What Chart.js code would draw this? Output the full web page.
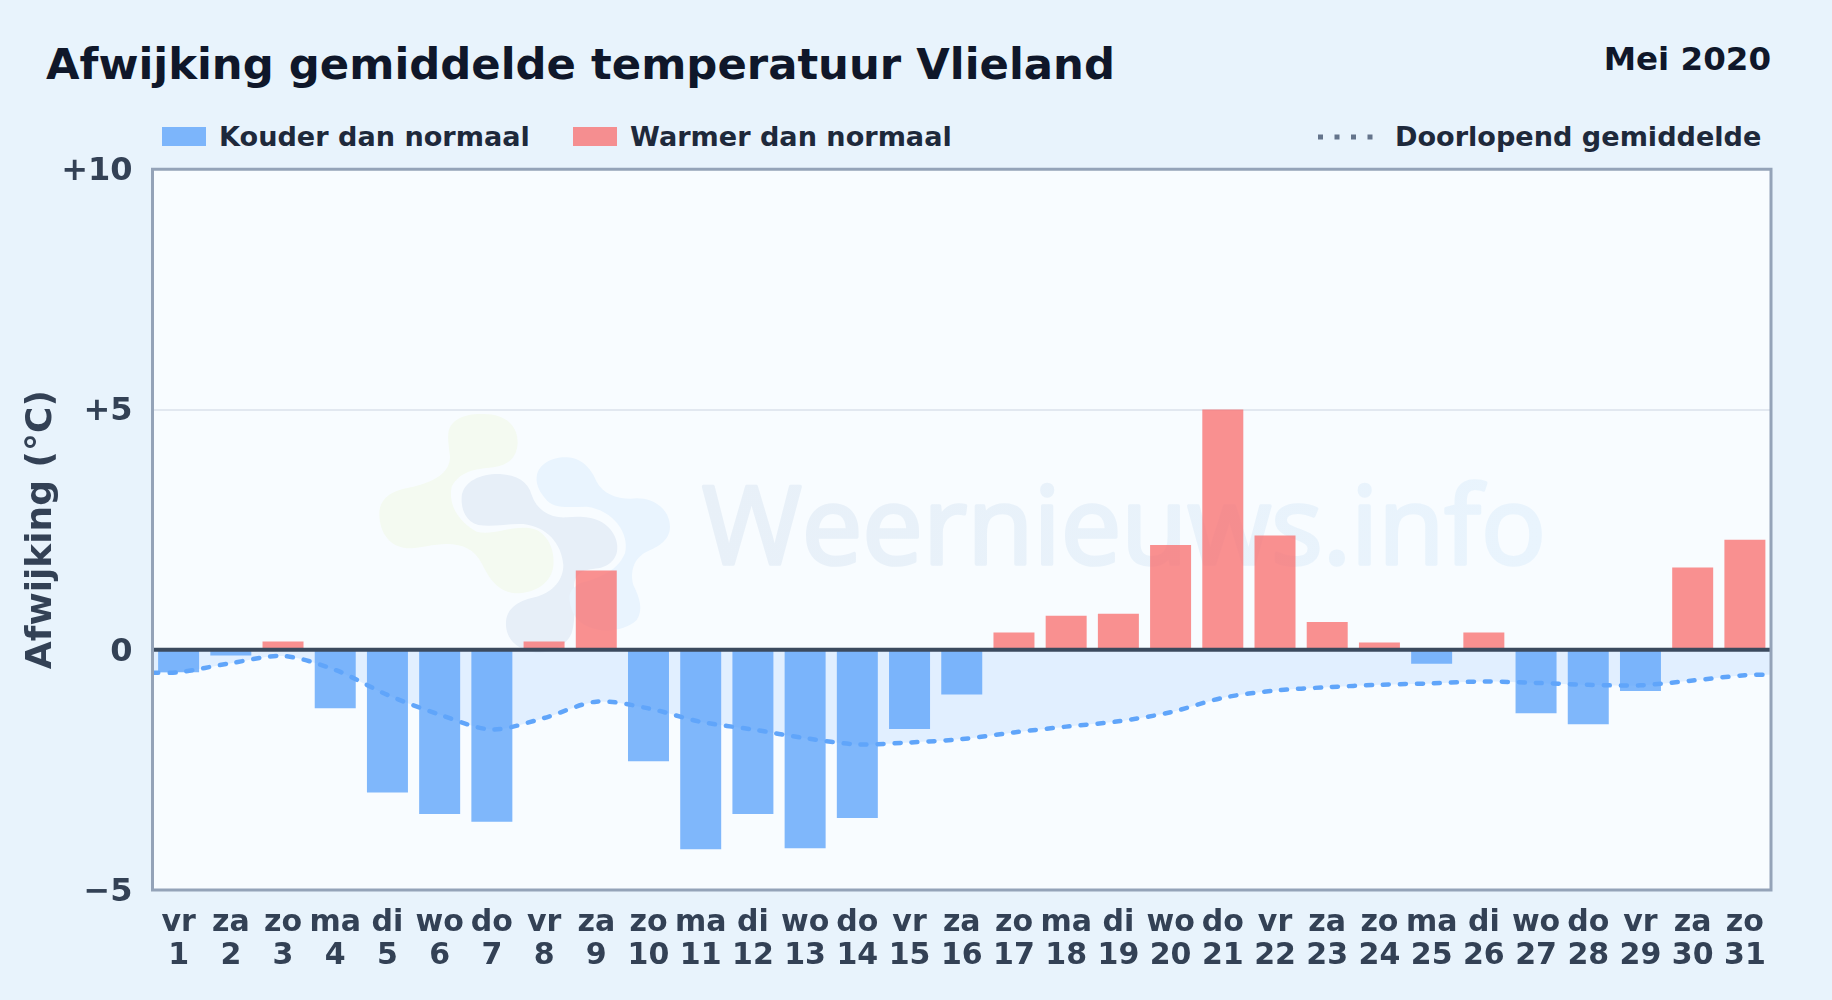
<!DOCTYPE html>
<html lang="nl"><head><meta charset="UTF-8"><title>Afwijking gemiddelde temperatuur Vlieland</title>
<script src="https://cdn.jsdelivr.net/npm/chart.js@4"></script>
<style>
    html, body { margin: 0; padding: 0; }
    body { width: 1832px; height: 1000px; overflow: hidden; position: relative; background: #e8f3fc; font-family: "DejaVu Sans", sans-serif; font-weight: bold; }
    canvas { position: absolute; left: 0; top: 0; }
    .txt { position: absolute; white-space: nowrap; line-height: 1; }
    .swatch { position: absolute; width: 44px; height: 19px; top: 127px; }
    h1 { margin: 0; left: 46px; top: 43px; font-size: 43.35px; color: #0f172a; }
    #month { right: 61px; top: 43px; font-size: 32.5px; color: #0f172a; }
    .leg { top: 123px; font-size: 27.1px; color: #1e293b; }
</style></head><body>
<h1 class="txt">Afwijking gemiddelde temperatuur Vlieland</h1>
<div id="month" class="txt">Mei 2020</div>
<div class="swatch" style="left:162px;background:rgba(96,165,250,.8)"></div>
<div class="txt leg" style="left:219px">Kouder dan normaal</div>
<div class="swatch" style="left:573px;background:rgba(248,113,113,.78)"></div>
<div class="txt leg" style="left:630px">Warmer dan normaal</div>
<svg style="position:absolute;left:1316px;top:134px" width="60" height="6"><line x1="2" y1="3" x2="58" y2="3" stroke="#64748b" stroke-width="5" stroke-dasharray="5 11.5"/></svg>
<div class="txt leg" style="left:1395px">Doorlopend gemiddelde</div>
<canvas id="mainChart" width="1832" height="1000"></canvas>
<script>
const dayNames = ['vr','za','zo','ma','di','wo','do','vr','za','zo','ma','di','wo','do','vr','za','zo','ma','di','wo','do','vr','za','zo','ma','di','wo','do','vr','za','zo'];
const dayNumbers = ['1','2','3','4','5','6','7','8','9','10','11','12','13','14','15','16','17','18','19','20','21','22','23','24','25','26','27','28','29','30','31'];
const deviation = [-0.47,-0.12,0.17,-1.22,-2.97,-3.42,-3.58,0.17,1.65,-2.32,-4.15,-3.42,-4.13,-3.5,-1.65,-0.93,0.36,0.71,0.75,2.18,5.0,2.38,0.58,0.15,-0.29,0.36,-1.32,-1.55,-0.86,1.71,2.29];
// running mean, the line runs on to both plot edges so it has 33 points
const meanX = [0,0.5,1.5,2.5,3.5,4.5,5.5,6.5,7.5,8.5,9.5,10.5,11.5,12.5,13.5,14.5,15.5,16.5,17.5,18.5,19.5,20.5,21.5,22.5,23.5,24.5,25.5,26.5,27.5,28.5,29.5,30.5,31];
const meanY = [-0.48,-0.47,-0.28,-0.13,-0.42,-0.94,-1.35,-1.66,-1.42,-1.08,-1.22,-1.5,-1.66,-1.84,-1.97,-1.93,-1.86,-1.72,-1.6,-1.49,-1.3,-1.0,-0.85,-0.78,-0.73,-0.7,-0.66,-0.69,-0.73,-0.74,-0.64,-0.53,-0.52];
const yTickLabels = { '10': '+10', '5': '+5', '0': '0', '-5': '−5' };

const cold = 'rgba(96,165,250,.8)', warm = 'rgba(248,113,113,.78)';

// logo + watermark text, goes under the bars
const logoGreen = 'M295 130C300 85 350 70 400 72C470 72 505 110 503 160C500 205 475 225 430 232C370 238 330 245 305 290C295 340 320 390 380 425C430 440 500 398 560 420C600 440 615 490 610 530C600 585 550 610 495 610C440 605 415 560 395 520C375 480 340 462 290 462C250 462 210 475 170 475C120 470 88 430 88 370C90 320 130 300 190 290C250 275 300 250 300 200C297 170 293 150 295 130Z';
const logoGrey = 'M335 320C340 270 400 250 450 252C500 255 535 275 545 315C560 360 600 385 650 382C710 375 770 385 795 440C815 490 790 525 745 535C700 540 675 545 672 590C670 630 680 680 665 730C645 775 590 795 545 785C495 775 465 740 468 695C472 650 510 630 560 620C610 605 640 570 640 525C635 460 590 410 520 402C470 400 430 412 385 405C350 395 332 360 335 320Z';
const logoBlue = 'M560 260C565 220 610 200 650 202C700 205 725 240 740 275C760 315 810 330 860 325C920 325 960 365 960 410C960 450 925 470 890 485C850 505 840 545 850 585C870 625 880 660 860 690C835 715 790 725 750 720C700 710 670 690 660 640C655 610 660 600 690 580C730 570 800 550 825 490C840 430 790 360 710 350C660 350 610 360 585 325C565 300 558 280 560 260Z';

const plotDecor = {
    id: 'plotDecor',
    beforeDraw(chart) {
        const { ctx, chartArea: a } = chart;
        ctx.save();
        ctx.fillStyle = '#f8fcff';
        ctx.fillRect(a.left, a.top, a.right - a.left, a.bottom - a.top);
        ctx.save();
        ctx.translate(350, 390);
        ctx.scale(1 / 3, 1 / 3);
        ctx.fillStyle = '#f4faf1'; ctx.fill(new Path2D(logoGreen));
        ctx.fillStyle = '#e7eff8'; ctx.fill(new Path2D(logoGrey));
        ctx.fillStyle = '#e9f4fe'; ctx.fill(new Path2D(logoBlue));
        ctx.restore();
        const wm = ctx.createLinearGradient(700, 0, 1546, 0);
        wm.addColorStop(0, '#e8f0f8');
        wm.addColorStop(1, '#e9f4fd');
        ctx.font = '108px "Open Sans"';
        ctx.fillStyle = wm;
        ctx.strokeStyle = wm;
        ctx.lineWidth = 3.5;
        ctx.lineJoin = 'round';
        ctx.textBaseline = 'alphabetic';
        ctx.fillText('Weernieuws.info', 702, 564, 844);
        ctx.strokeText('Weernieuws.info', 702, 564, 844);
        ctx.restore();
    },
    afterDatasetsDraw(chart) {
        const { ctx, chartArea: a, scales } = chart;
        ctx.save();
        // zero line sits over the bars
        const zero = scales.y.getPixelForValue(0);
        ctx.strokeStyle = '#3b4a5e';
        ctx.lineWidth = 4;
        ctx.beginPath();
        ctx.moveTo(a.left, zero);
        ctx.lineTo(a.right, zero);
        ctx.stroke();
        ctx.strokeStyle = '#94a3b8';
        ctx.lineWidth = 3;
        ctx.strokeRect(a.left, a.top, a.right - a.left, a.bottom - a.top);
        ctx.restore();
    }
};

Chart.defaults.devicePixelRatio = 1;
new Chart(document.getElementById('mainChart').getContext('2d'), {
    type: 'bar',
    data: {
        labels: dayNames.map((d, i) => [d, dayNumbers[i]]),
        datasets: [
            {
                type: 'line', label: 'Doorlopend gemiddelde', order: 0, xAxisID: 'xMean',
                data: meanX.map((x, i) => ({ x, y: meanY[i] })),
                borderColor: '#60a5fa', borderWidth: 4.5, borderDash: [6, 11], borderCapStyle: 'round',
                pointRadius: 0, tension: 0.3,
                fill: { value: 0 }, backgroundColor: 'rgba(191,219,254,.4)'
            },
            {
                label: 'Afwijking', order: 1, data: deviation, grouped: false,
                backgroundColor: c => c.raw < 0 ? cold : warm,
                barPercentage: 0.785, categoryPercentage: 1
            }
        ]
    },
    options: {
        responsive: false, animation: false,
        layout: { padding: { left: 20, top: 169.25, right: 61, bottom: 0 } },
        plugins: { legend: { display: false }, tooltip: { enabled: false }, filler: { drawTime: 'beforeDatasetsDraw' } },
        scales: {
            x: {
                grid: { display: false }, border: { display: false },
                afterFit: s => { s.height = 110; },
                ticks: { autoSkip: false, maxRotation: 0, minRotation: 0, padding: 9, color: '#334155', font: { family: '"DejaVu Sans"', size: 30, weight: 'bold', lineHeight: 1.1 } }
            },
            xMean: { type: 'linear', display: false, min: 0, max: 31, offset: false },
            y: {
                min: -5, max: 10,
                afterFit: s => { s.width = 132.5; },
                border: { display: false },
                grid: {
                    drawTicks: false,
                    color: c => c.tick.value === 5 ? '#e2e8f0' : 'transparent',
                    lineWidth: 2
                },
                ticks: { stepSize: 5, padding: 20, labelOffset: 2.5, color: '#334155', font: { family: '"DejaVu Sans"', size: 32, weight: 'bold' }, callback: v => yTickLabels[v] },
                title: { display: true, text: 'Afwijking (°C)', color: '#334155', padding: 0, font: { family: '"DejaVu Sans"', size: 36, weight: 'bold' } }
            }
        }
    },
    plugins: [plotDecor]
});
</script>
</body></html>
